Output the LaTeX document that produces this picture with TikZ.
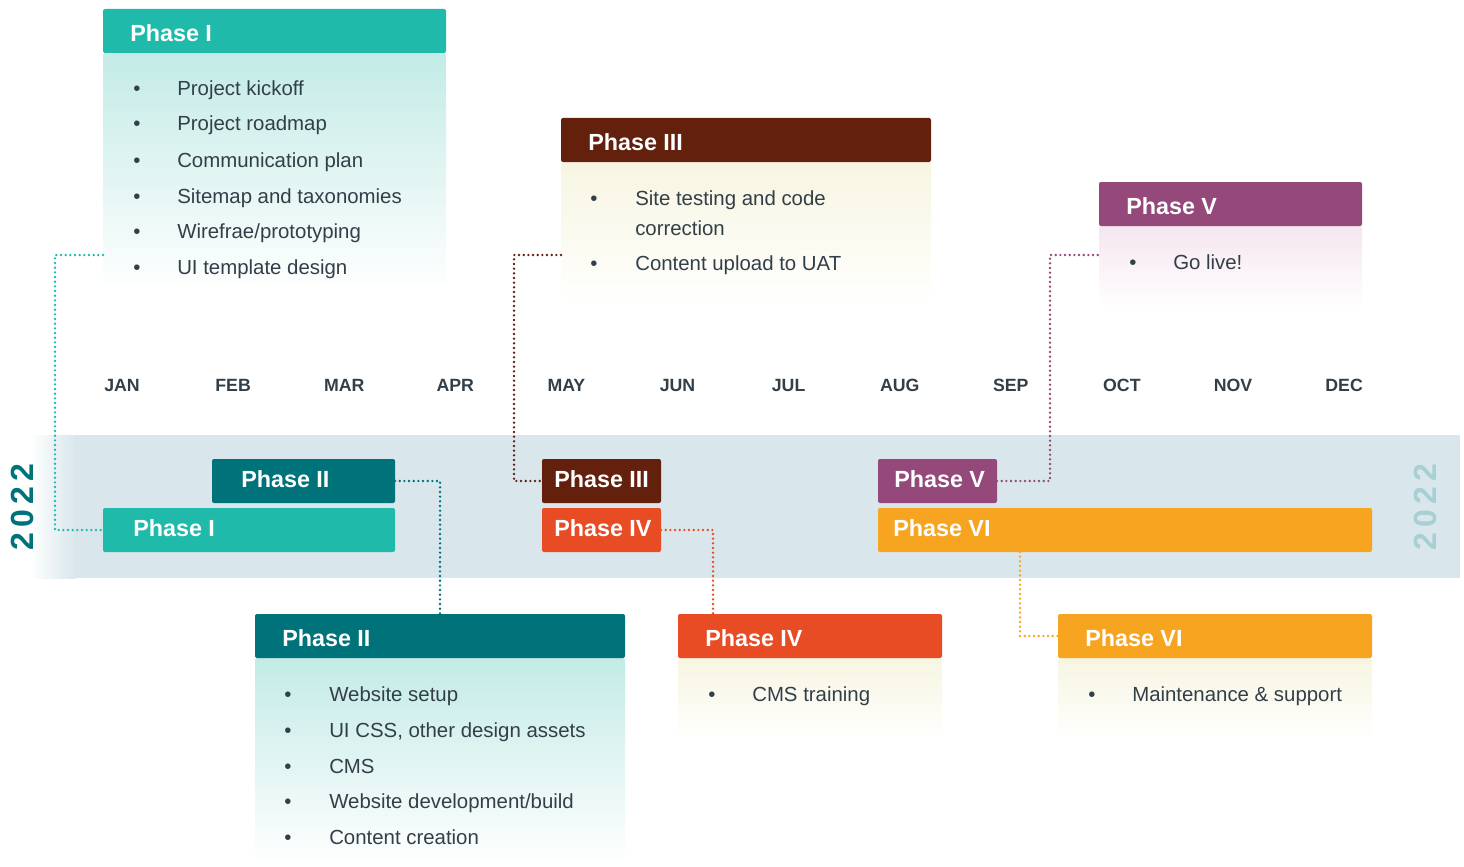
\documentclass[tikz,border=0pt]{standalone}
\usepackage{fontspec}
\setmainfont{Liberation Sans}
\usetikzlibrary{fit,calc}
\definecolor{tealA}{HTML}{1FBAAA}
\definecolor{tealB}{HTML}{00737A}
\definecolor{brownC}{HTML}{62200D}
\definecolor{redD}{HTML}{E84C25}
\definecolor{plumE}{HTML}{94497A}
\definecolor{amberF}{HTML}{F7A520}
\definecolor{bandbg}{HTML}{D9E7EC}
\definecolor{inkgray}{HTML}{333F48}
\definecolor{tealpale}{HTML}{C3EBE6}
\definecolor{creampale}{HTML}{F7F5E1}
\definecolor{plumpale}{HTML}{F5E6EF}
\definecolor{yearpale}{HTML}{A8D0D4}
\tikzset{
  box/.style={inner sep=0pt, outer sep=0pt, rounded corners=1.5pt},
  head/.style={font=\fontsize{17.5}{20}\selectfont\bfseries, text=white, anchor=base west, inner sep=0pt},
  item/.style={font=\fontsize{15.3}{18}\selectfont, text=inkgray, anchor=base west, inner sep=0pt},
  dot/.style={font=\fontsize{15.3}{18}\selectfont, text=inkgray, anchor=base, inner sep=0pt},
  month/.style={font=\fontsize{13.3}{15}\selectfont\bfseries, text=inkgray},
  year/.style={font=\fontsize{24}{26}\selectfont\bfseries, rotate=90},
  link/.style={line width=2pt, dash pattern=on 0pt off 3.5pt, line cap=round},
}
\begin{document}
\begin{tikzpicture}[x=0.75pt,y=-0.75pt]
\useasboundingbox (0,0) rectangle (1464,867);
\coordinate (lvl) at (0,255);
%band
\shade[left color=white, right color=bandbg] (30,435) rectangle (75,578);
\fill[bandbg] (74,435) rectangle (1460,578);
\node[year, text=tealB] (yl) at (22,507) {2\,0\,2\,2};
\node[year, text=yearpale] (yr) at (1425,507) {2\,0\,2\,2};
%months
\foreach \m [count=\i from 0] in {JAN,FEB,MAR,APR,MAY,JUN,JUL,AUG,SEP,OCT,NOV,DEC} {
  \node[month] (m\i) at (122+111.1*\i,385) {\m}; }
%bars
\node[box, fit={(212,459) (395,503)}, fill=tealB] (bar2) {};
\node[head] (bar2t) at ($(bar2.west)+(29,6.5)$) {Phase II};
\node[box, fit={(103,508) (395,552)}, fill=tealA] (bar1) {};
\node[head] (bar1t) at ($(bar1.west)+(30,6.5)$) {Phase I};
\node[box, fit={(542,459) (661,503)}, fill=brownC] (bar3) {};
\node[head] (bar3t) at ($(bar3.west)+(12,6.5)$) {Phase III};
\node[box, fit={(542,508) (661,552)}, fill=redD] (bar4) {};
\node[head] (bar4t) at ($(bar4.west)+(12,6.5)$) {Phase IV};
\node[box, fit={(878,459) (997,503)}, fill=plumE] (bar5) {};
\node[head] (bar5t) at ($(bar5.west)+(16,6.5)$) {Phase V};
\node[box, fit={(878,508) (1372,552)}, fill=amberF] (bar6) {};
\node[head] (bar6t) at ($(bar6.west)+(15,6.5)$) {Phase VI};
%callouts
\node[box, fit={(103,53) (446,290)}, top color=tealpale, bottom color=white] (c1body) {};
\node[box, fit={(103,9) (446,53)}, fill=tealA] (c1head) {};
\node[head] (c1t) at ($(c1head.west)+(27,10.5)$) {Phase I};
\foreach \y/\t [count=\i] in {88/Project kickoff,123/Project roadmap,159/Communication plan,
    195/Sitemap and taxonomies,230/{Wirefrae/prototyping},266/UI template design} {
  \node[dot] (c1d\i) at (137,\y+8) {•};
  \node[item] (c1i\i) at (177,\y+8) {\t}; }
\node[box, fit={(561,162) (931,305)}, top color=creampale, bottom color=white] (c3body) {};
\node[box, fit={(561,118) (931,162)}, fill=brownC] (c3head) {};
\node[head] (c3t) at ($(c3head.west)+(27,10.5)$) {Phase III};
\node[dot] (c3d1) at (594,205) {•};
\node[item] (c3i1) at (635,205) {Site testing and code};
\node[item] (c3i2) at (635,235) {correction};
\node[dot] (c3d2) at (594,270) {•};
\node[item] (c3i3) at (635,270) {Content upload to UAT};
\node[box, fit={(1099,226) (1362,308)}, top color=plumpale, bottom color=white] (c5body) {};
\node[box, fit={(1099,182) (1362,226)}, fill=plumE] (c5head) {};
\node[head] (c5t) at ($(c5head.west)+(27,10.5)$) {Phase V};
\node[dot] (c5d1) at (1133,269) {•};
\node[item] (c5i1) at (1173,269) {Go live!};
\node[box, fit={(255,658) (625,865)}, top color=tealpale, bottom color=white] (c2body) {};
\node[box, fit={(255,614) (625,658)}, fill=tealB] (c2head) {};
\node[head] (c2t) at ($(c2head.west)+(27,10.5)$) {Phase II};
\foreach \y/\t [count=\i] in {693/Website setup,729/{UI CSS, other design assets},765/CMS,
    800/{Website development/build},836/Content creation} {
  \node[dot] (c2d\i) at (288,\y+8) {•};
  \node[item] (c2i\i) at (329,\y+8) {\t}; }
\node[box, fit={(678,658) (942,740)}, top color=creampale, bottom color=white] (c4body) {};
\node[box, fit={(678,614) (942,658)}, fill=redD] (c4head) {};
\node[head] (c4t) at ($(c4head.west)+(27,10.5)$) {Phase IV};
\node[dot] (c4d1) at (712,701) {•};
\node[item] (c4i1) at (752,701) {CMS training};
\node[box, fit={(1058,658) (1372,740)}, top color=creampale, bottom color=white] (c6body) {};
\node[box, fit={(1058,614) (1372,658)}, fill=amberF] (c6head) {};
\node[head] (c6t) at ($(c6head.west)+(27,10.5)$) {Phase VI};
\node[dot] (c6d1) at (1092,701) {•};
\node[item] (c6i1) at (1132,701) {Maintenance \& support};
%links
\draw[link, tealA] (c1body.west |- lvl) -- ++(-48,0) |- (bar1.west);
\draw[link, tealB] (bar2.east) -| (c2head.north);
\draw[link, brownC] (c3body.west |- lvl) -- ++(-47,0) |- (bar3.west);
\draw[link, redD] (bar4.east) -| ([xshift=26.25pt]c4head.north west);
\draw[link, plumE] (bar5.east) -- ++(53,0) |- (c5body.west |- lvl);
\draw[link, amberF] ([xshift=106.5pt]bar6.south west) |- (c6head.west);
\end{tikzpicture}
\end{document}
